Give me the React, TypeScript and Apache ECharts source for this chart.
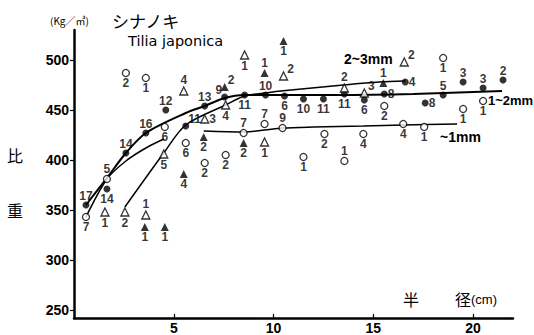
import React, { useEffect, useRef } from 'react';
import * as echarts from 'echarts';

// axis ticks
const yTicks = [250, 300, 350, 400, 450, 500];
const xTicks = [5, 10, 15, 20];

// [radius (cm), specific gravity (kg/m3), number of samples]
const filledCircles = [
  [0.6, 355, 17], [1.65, 371, 14], [2.6, 407, 14], [3.6, 427, 16], [4.6, 450, 12],
  [5.6, 434, 11], [6.55, 454, 13], [7.55, 463, 9], [8.55, 465, 11], [9.6, 465, 10],
  [10.55, 464, 6], [11.5, 461, 10], [12.5, 461, 11], [13.55, 466, 11], [14.55, 460, 6],
  [15.55, 466, 8], [16.6, 478, 4], [17.6, 457, 8], [18.5, 465, 5], [19.5, 478, 3],
  [20.5, 472, 3], [21.5, 480, 2],
];
const filledCirclePos = [
  'top', 'bottom', 'top', 'top', 'top', 'tr', 'top', 'tl', 'bottom', 'top',
  'bottom', 'bottom', 'bottom', 'bottom', 'bottom', 'right', 'right', 'right', 'top', 'top',
  'top', 'top',
];

const openCircles = [
  [0.6, 343, 7], [1.65, 381, 5], [2.6, 487, 2], [3.6, 482, 1], [4.55, 433, 6],
  [5.6, 417, 6], [6.55, 397, 2], [7.6, 405, 2], [8.5, 427, 7], [9.55, 436, 7],
  [10.45, 432, 9], [11.5, 403, 1], [12.55, 426, 2], [13.55, 399, 1], [14.5, 426, 4],
  [15.55, 454, 2], [16.5, 436, 4], [17.55, 433, 1], [18.5, 502, 1], [19.5, 451, 1],
  [20.5, 459, 1],
];
const openCirclePos = [
  'bottom', 'top', 'bottom', 'bottom', 'bottom', 'bottom', 'bottom', 'bottom', 'top', 'top',
  'top', 'bottom', 'bottom', 'top', 'bottom', 'bottom', 'bottom', 'bottom', 'bottom', 'bottom',
  'bottom',
];

const openTriangles = [
  [1.55, 348, 1], [2.55, 348, 2], [3.6, 345, 1], [4.5, 406, 5], [5.5, 469, 4],
  [6.55, 441, 3], [7.6, 455, 4], [8.55, 505, 1], [9.55, 418, 1], [10.5, 484, 2],
  [13.55, 472, 2], [14.55, 467, 3], [16.55, 498, 2],
];
const openTrianglePos = [
  'bottom', 'bottom', 'top', 'bottom', 'top', 'right', 'bottom', 'bottom', 'bottom', 'tr',
  'top', 'tr', 'tr',
];

const filledTriangles = [
  [3.55, 333, 1], [4.55, 333, 1], [5.5, 386, 4], [6.5, 423, 2], [8.5, 417, 2],
  [7.55, 473, 2], [9.55, 487, 1], [10.5, 519, 1], [15.5, 477, 1],
];
const filledTrianglePos = [
  'bottom', 'bottom', 'bottom', 'bottom', 'bottom', 'tr', 'top', 'bottom', 'top',
];

// fitted curves
const curve1to2 = [
  [0.6, 355], [1.65, 382], [2.6, 407], [3.6, 427], [5.6, 447], [6.55, 454], [7.55, 462],
  [8.55, 465], [9.6, 465], [13, 465], [17, 466], [21.45, 469],
];
const curve2to3 = [
  [2.55, 353], [4.5, 407], [5.6, 435], [7.6, 455], [8.55, 464], [9.6, 467], [10.35, 469],
  [13.5, 475], [15.3, 478], [16.6, 479],
];
const curveUnder1a = [[0.6, 343], [1.65, 381], [2.6, 399], [3.6, 412], [4.5, 421]];
const curveUnder1b = [
  [6.5, 429], [8.5, 428], [9.55, 430], [10.45, 432], [12, 433], [14.5, 434], [16.5, 435], [19.2, 436],
];

const FONT = '"Liberation Sans", Arial, sans-serif';

function labelFor(p: string) {
  switch (p) {
    case 'tr':
      return { position: 'right', offset: [-1, -7] };
    case 'tl':
      return { position: 'left', offset: [1, -7] };
    default:
      return { position: p };
  }
}

function scatter(data: number[][], pos: string[], symbol: string, filled: boolean, size: number) {
  return {
    type: 'scatter',
    symbol,
    symbolSize: size,
    z: 4,
    itemStyle: filled
      ? { color: '#000' }
      : { color: '#fff', borderColor: '#000', borderWidth: 1.3 },
    label: {
      show: true,
      formatter: (p: any) => String(p.value[2]),
      fontSize: 12,
      fontWeight: 'bold',
      color: '#000',
      fontFamily: FONT,
      distance: 0,
    },
    data: data.map((d, i) => ({ value: d, label: labelFor(pos[i]) })),
  };
}

function curve(data: number[][], width: number) {
  return {
    type: 'line',
    data,
    symbol: 'none',
    showSymbol: false,
    smooth: 0.3,
    silent: true,
    z: 2,
    lineStyle: { color: '#000', width },
  };
}

function txt(x: number, y: number, text: string, size: number, opts: any = {}) {
  return {
    type: 'text',
    x,
    y,
    style: {
      text,
      fill: '#000',
      font: `${opts.weight || 'normal'} ${size}px ${opts.family || FONT}`,
      textAlign: opts.align || 'left',
      align: opts.align || 'left',
      textVerticalAlign: 'middle',
      verticalAlign: 'middle',
    },
  };
}

export default function App() {
  const ref = useRef<HTMLDivElement>(null);
  useEffect(() => {
    if (!ref.current) return;
    const chart = echarts.init(ref.current, null, { renderer: 'svg' });
    const cjk = '"Noto Sans CJK JP", sans-serif';
    chart.setOption({
      animation: false,
      backgroundColor: '#fff',
      grid: { left: 74, right: 21, top: 30, bottom: 17, containLabel: false },
      xAxis: {
        type: 'value',
        min: 0,
        max: 22,
        splitLine: { show: false },
        axisLine: { show: true, onZero: false, lineStyle: { color: '#000', width: 2.5 } },
        axisTick: { show: true, inside: true, length: 4, customValues: xTicks, lineStyle: { color: '#000', width: 1.2 } },
        axisLabel: { customValues: xTicks, fontSize: 14, fontWeight: 'bold', color: '#000', fontFamily: FONT, margin: 3 },
      },
      yAxis: {
        type: 'value',
        min: 242,
        max: 530,
        splitLine: { show: false },
        axisLine: { show: true, onZero: false, lineStyle: { color: '#000', width: 2.5 } },
        axisTick: { show: true, inside: false, length: 4, customValues: yTicks, lineStyle: { color: '#000', width: 1.2 } },
        axisLabel: { customValues: yTicks, fontSize: 14, fontWeight: 'bold', color: '#000', fontFamily: FONT, margin: 5 },
      },
      series: [
        curve(curve1to2, 2),
        curve(curve2to3, 1.5),
        curve(curveUnder1a, 1.5),
        curve(curveUnder1b, 1.5),
        scatter(filledCircles, filledCirclePos, 'circle', true, 7),
        scatter(openCircles, openCirclePos, 'circle', false, 7),
        scatter(openTriangles, openTrianglePos, 'triangle', false, 8),
        scatter(filledTriangles, filledTrianglePos, 'triangle', true, 8),
      ],
      graphic: [
        txt(50, 20, '(Kg／㎥)', 10, { family: cjk }),
        txt(112, 20, 'シナノキ', 17, { family: cjk }),
        txt(128, 41, 'Tilia japonica', 14.5, { family: '"DejaVu Sans", sans-serif' }),
        txt(15, 155, '比', 16, { family: cjk, align: 'center' }),
        txt(15, 210, '重', 16, { family: cjk, align: 'center' }),
        txt(403, 299, '半', 16, { family: cjk }),
        txt(455, 299, '径', 16, { family: cjk }),
        txt(471, 299, '(cm)', 13, {}),
        txt(344, 59, '2~3mm', 14, { weight: 'bold' }),
        txt(488, 100, '1~2mm', 13, { weight: 'bold' }),
        txt(440, 137, '~1mm', 14, { weight: 'bold' }),
      ],
    });
    return () => chart.dispose();
  }, []);
  return (
    <div
      ref={ref}
      style={{ position: 'fixed', left: 0, top: 0, width: 534, height: 335, background: '#fff' }}
    />
  );
}
